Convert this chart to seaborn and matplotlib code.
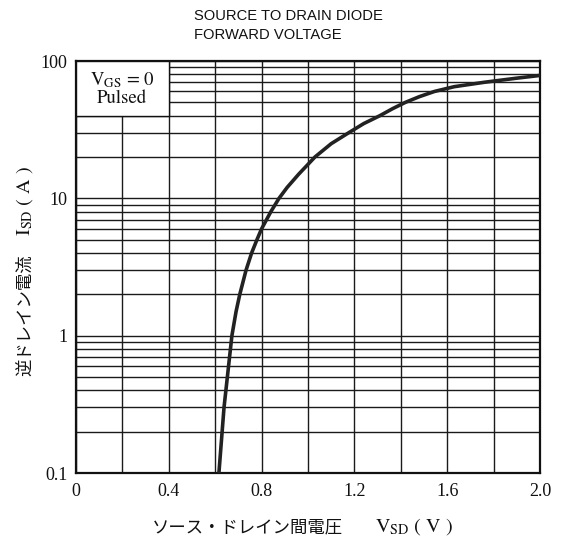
import matplotlib
matplotlib.use("Agg")
import matplotlib.pyplot as plt
from matplotlib.patches import Rectangle
from matplotlib.ticker import FixedLocator, FuncFormatter, NullFormatter
import seaborn as sns
import pandas as pd

# ---- data ----
isd = [0.1, 0.3, 1.0, 1.5, 2.0, 3.0, 4.0, 5.0, 6.0, 8.0, 10.0, 12.0, 15.0,
       20.0, 25.0, 30.0, 35.0, 40.0, 45.0, 50.0, 55.0, 60.0, 65.0,
       70.0, 75.0, 78.5]
vsd = [0.616, 0.638, 0.672, 0.690, 0.706, 0.733, 0.757, 0.780, 0.800, 0.840,
       0.875, 0.910, 0.960, 1.030, 1.100, 1.175, 1.240, 1.310, 1.365,
       1.420, 1.480, 1.545, 1.630, 1.760, 1.900, 2.000]
x_grid = [0.0, 0.2, 0.4, 0.6, 0.8, 1.0, 1.2, 1.4, 1.6, 1.8, 2.0]
x_labels = {0.0: "0", 0.4: "0.4", 0.8: "0.8", 1.2: "1.2", 1.6: "1.6", 2.0: "2.0"}
y_major = [0.1, 1, 10, 100]
y_labels = ["0.1", "1", "10", "100"]

df = pd.DataFrame({"V": vsd, "I": isd})

plt.rcParams["mathtext.fontset"] = "stix"

W, H = 566, 545
fig = plt.figure(figsize=(W / 100, H / 100), dpi=100)
ax = fig.add_axes([76 / W, 1 - 473 / H, 464 / W, 412 / H])

sns.lineplot(data=df, x="V", y="I", ax=ax, color="#222222", linewidth=2.6,
             sort=False, zorder=5, solid_capstyle="round", solid_joinstyle="round")

ax.set_yscale("log")
ax.set_xlim(0, 2.0)
ax.set_ylim(0.1, 100)

ax.xaxis.set_major_locator(FixedLocator(x_grid))
ax.xaxis.set_major_formatter(FuncFormatter(
    lambda v, p: x_labels.get(round(v, 1), "")))
ax.yaxis.set_major_locator(FixedLocator(y_major))
ax.yaxis.set_major_formatter(FuncFormatter(
    lambda v, p: dict(zip(y_major, y_labels)).get(v, "")))
minors = [m * d for d in [0.1, 1, 10] for m in range(2, 10)]
ax.yaxis.set_minor_locator(FixedLocator(minors))
ax.yaxis.set_minor_formatter(NullFormatter())

ax.grid(True, which="both", color="#1a1a1a", linewidth=1.0)
ax.set_axisbelow(True)
ax.tick_params(which="both", length=0)
ax.tick_params(axis="x", pad=7)
ax.tick_params(axis="y", pad=6)
for lab in ax.get_xticklabels() + ax.get_yticklabels():
    lab.set_fontfamily("Liberation Serif")
    lab.set_fontsize(13)
    lab.set_color("#111111")
for s in ax.spines.values():
    s.set_linewidth(1.6)
    s.set_color("#111111")
ax.set_xlabel("")
ax.set_ylabel("")

# condition box in upper left
ax.add_patch(Rectangle((0, 40), 0.4, 60, facecolor="white", edgecolor="#111111",
                       linewidth=1.0, zorder=3))
ax.text(0.099, 0.953, "V$_{\\mathrm{GS}}$ = 0", transform=ax.transAxes,
        ha="center", va="center", fontsize=13.5, color="#111111", zorder=6,
        family="STIXGeneral")
ax.text(0.099, 0.908, "Pulsed", transform=ax.transAxes, ha="center", va="center",
        fontsize=13.5, color="#111111", zorder=6, family="STIXGeneral")

# title
fig.text(194 / W, 1 - 9 / H, "SOURCE TO DRAIN DIODE\nFORWARD VOLTAGE",
         ha="left", va="top", fontsize=10.6, linespacing=1.45,
         family="Liberation Sans", color="#111111")

# x label
fig.text(247 / W, 1 - 527 / H, "ソース・ドレイン間電圧", ha="center", va="center",
         fontsize=12.5, family=["Noto Sans CJK JP", "DejaVu Sans"], color="#111111")
fig.text(414 / W, 1 - 527 / H, "V$_{\\mathrm{SD}}$ ( V )", ha="center", va="center",
         fontsize=14.5, family="STIXGeneral", color="#111111")

# y label
fig.text(25 / W, 1 - 315 / H, "逆ドレイン電流", ha="center", va="center",
         rotation=90, fontsize=12.5, family=["Noto Sans CJK JP", "DejaVu Sans"],
         color="#111111")
fig.text(25 / W, 1 - 201 / H, "I$_{\\mathrm{SD}}$ ( A )", ha="center", va="center",
         rotation=90, fontsize=14.5, family="STIXGeneral", color="#111111")

fig.savefig("out.png", dpi=100, facecolor="white")
